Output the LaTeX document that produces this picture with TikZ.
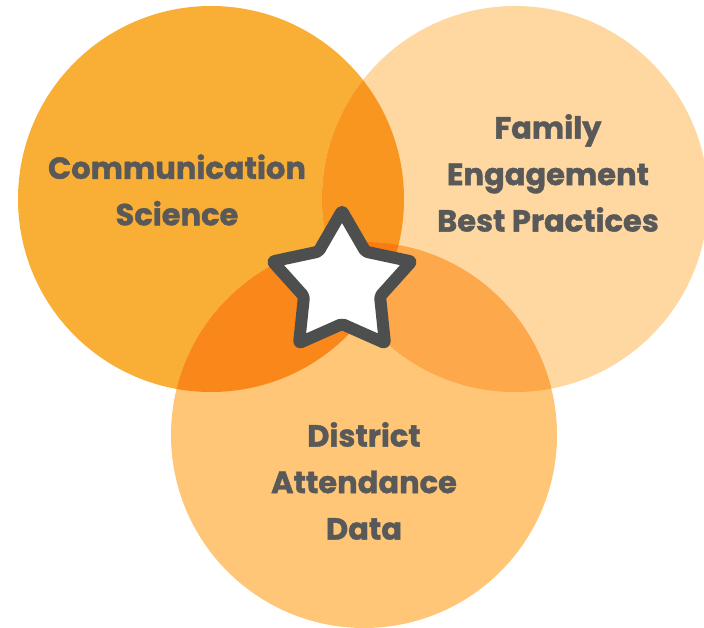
\documentclass[tikz,border=0pt]{standalone}
\usepackage{fontspec}
\newfontfamily\labfont[BoldFeatures={FakeBold=1.2}]{Poppins}
\definecolor{cL}{HTML}{F9AE35}
\definecolor{cR}{HTML}{FED8A0}
\definecolor{cB}{HTML}{FEC676}
\definecolor{cLR}{HTML}{F9961F}
\definecolor{cLB}{HTML}{F9871A}
\definecolor{cRB}{HTML}{FCA84B}
\definecolor{cLRB}{HTML}{F97B12}
\definecolor{txt}{HTML}{595959}
\definecolor{starc}{HTML}{4D4E4E}
\tikzset{
  lab/.style={font=\labfont\bfseries\fontsize{30.5}{46.5}\selectfont, text=txt, align=center},
  starline/.style={draw=starc, fill=white, line width=12pt, line join=round, rounded corners=2pt}
}
\begin{document}
\begin{tikzpicture}[x=1pt,y=-1pt]
\useasboundingbox (0,0) rectangle (704,628);
\def\cL{(211,199) circle (193)}
\def\cR{(515,199) circle (193)}
\def\cB{(364,435) circle (193)}
\fill[cL] \cL;
\fill[cR] \cR;
\fill[cB] \cB;
\begin{scope}\clip \cL; \fill[cLR] \cR; \end{scope}
\begin{scope}\clip \cL; \fill[cLB] \cB; \end{scope}
\begin{scope}\clip \cR; \fill[cRB] \cB; \end{scope}
\begin{scope}\clip \cL; \clip \cR; \fill[cLRB] \cB; \end{scope}
% star
\begin{scope}[shift={(342,284)}]
\draw[starline] (-90:73) -- (-54:40) -- (-18:73) -- (18:40) -- (54:73) -- (90:40)
  -- (126:73) -- (162:40) -- (198:73) -- (234:40) -- cycle;
\end{scope}
\node[lab] (comm) at (177,190) {Communication\\Science};
\node[lab] (fam) at (548,173) {Family\\Engagement\\Best Practices};
\node[lab] (dist) at (364,481) {District\\Attendance\\Data};
\end{tikzpicture}
\end{document}
